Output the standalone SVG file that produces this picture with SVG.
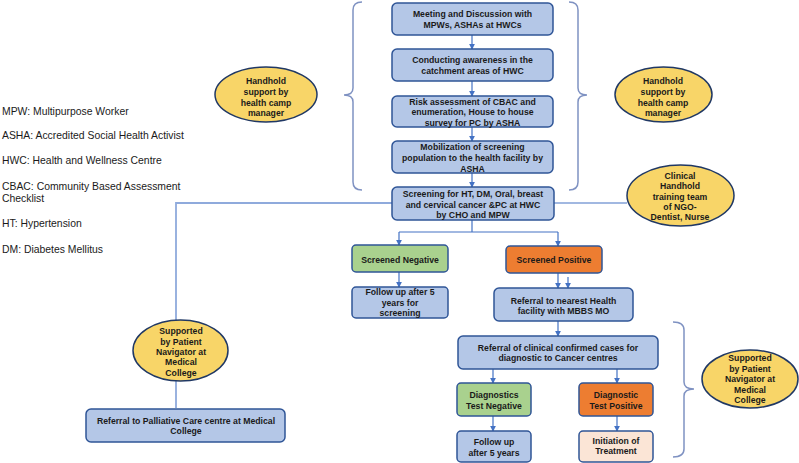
<svg xmlns="http://www.w3.org/2000/svg" width="799" height="463" viewBox="0 0 799 463">
<defs>
<marker id="ah" viewBox="0 0 8 8" refX="7" refY="4" markerWidth="6" markerHeight="6" orient="auto" markerUnits="userSpaceOnUse">
<path d="M0,0 L8,4 L0,8 z" fill="#4472c4"/>
</marker>
<style>
.box{fill:#b4c7e7;stroke:#2f5597;stroke-width:1.5}
.neg{fill:#a9d18e;stroke:#2f5597;stroke-width:1.5}
.pos{fill:#ed7d31;stroke:#2f5597;stroke-width:1.5}
.trt{fill:#fbe5d6;stroke:#2f5597;stroke-width:1.5}
.ell{fill:#f8d568;stroke:#203864;stroke-width:1.5}
.t{font-family:"Liberation Sans",Arial,sans-serif;font-weight:bold;font-size:8.7px;fill:#1a1a1a;text-anchor:middle}
.lg{font-family:"Liberation Sans",Arial,sans-serif;font-size:10.4px;fill:#1a1a1a}
.arr{stroke:#4472c4;stroke-width:1.2;fill:none;marker-end:url(#ah)}
.ln{stroke:#4472c4;stroke-width:1.2;fill:none}
.ln2{stroke:#8faadc;stroke-width:1.8;fill:none}
.br{stroke:#7f92c2;stroke-width:1.5;fill:none}
</style>
</defs>

<g id="legend">
<text class="lg" x="2" y="115">MPW: Multipurpose Worker</text>
<text class="lg" x="2" y="139">ASHA: Accredited Social Health Activist</text>
<text class="lg" x="2" y="164">HWC: Health and Wellness Centre</text>
<text class="lg" x="2" y="190">CBAC: Community Based Assessment</text>
<text class="lg" x="2" y="202">Checklist</text>
<text class="lg" x="2" y="227">HT: Hypertension</text>
<text class="lg" x="2" y="253">DM: Diabetes Mellitus</text>
</g>

<g id="braces">
<path class="br" d="M362,2 Q353,2 353,10 L353,88 Q353,95 344,95 Q353,95 353,102 L353,182 Q353,190 362,190"/>
<path class="br" d="M569,2 Q578,2 578,10 L578,88 Q578,95 587,95 Q578,95 578,102 L578,182 Q578,190 569,190"/>
<path class="br" d="M673,322 Q684,322 684,330 L684,382 Q684,389 694,389 Q684,389 684,396 L684,449 Q684,457 673,457"/>
</g>

<g id="connectors">
<line class="arr" x1="472" y1="35" x2="472" y2="49"/>
<line class="arr" x1="472" y1="81" x2="472" y2="96"/>
<line class="arr" x1="472" y1="127" x2="472" y2="141"/>
<line class="arr" x1="472" y1="173" x2="472" y2="187"/>
<line class="ln" x1="554" y1="203" x2="627" y2="203"/>
<polyline class="ln2" points="392,203 176,203 176,320"/>
<line class="ln2" x1="176" y1="381" x2="176" y2="408"/>
<polyline class="ln" points="472,220 472,232"/>
<polyline class="ln" points="399,232 558,232"/>
<line class="arr" x1="399" y1="232" x2="399" y2="245"/>
<line class="arr" x1="558" y1="232" x2="558" y2="246"/>
<line class="arr" x1="399" y1="272" x2="399" y2="287"/>
<line class="arr" x1="558" y1="273" x2="558" y2="288"/>
<line class="arr" x1="568" y1="277" x2="568" y2="288"/>
<line class="arr" x1="558" y1="321" x2="558" y2="336"/>
<line class="arr" x1="493" y1="369" x2="493" y2="383"/>
<line class="arr" x1="617" y1="369" x2="617" y2="383"/>
<line class="arr" x1="493" y1="416" x2="493" y2="431"/>
<line class="arr" x1="617" y1="416" x2="617" y2="431"/>
</g>

<g id="n-meeting">
<rect class="box" x="392" y="3" width="161" height="32" rx="5"/>
<text class="t" x="472.5" y="16.5">Meeting and Discussion with</text>
<text class="t" x="472.5" y="27.5">MPWs, ASHAs at HWCs</text>
</g>
<g id="n-awareness">
<rect class="box" x="392" y="49" width="161" height="32" rx="5"/>
<text class="t" x="472.5" y="63">Conducting awareness in the</text>
<text class="t" x="472.5" y="74">catchment areas of HWC</text>
</g>
<g id="n-risk">
<rect class="box" x="392" y="96" width="161" height="31" rx="5"/>
<text class="t" x="472.5" y="104.5">Risk assessment of CBAC and</text>
<text class="t" x="472.5" y="115">enumeration, House to house</text>
<text class="t" x="472.5" y="125.5">survey for PC by ASHA</text>
</g>
<g id="n-mobilization">
<rect class="box" x="392" y="141" width="161" height="32" rx="5"/>
<text class="t" x="472.5" y="150">Mobilization of screening</text>
<text class="t" x="472.5" y="161">population to the health facility by</text>
<text class="t" x="472.5" y="171.5">ASHA</text>
</g>
<g id="n-screening">
<rect class="box" x="392" y="187" width="162" height="33" rx="5"/>
<text class="t" x="473" y="196.5">Screening for HT, DM, Oral, breast</text>
<text class="t" x="473" y="207.5">and cervical cancer &amp;PC at HWC</text>
<text class="t" x="473" y="218">by CHO and MPW</text>
</g>
<g id="n-screened-negative">
<rect class="neg" x="352" y="245" width="96" height="27" rx="4"/>
<text class="t" x="400" y="262.5">Screened Negative</text>
</g>
<g id="n-screened-positive">
<rect class="pos" x="506" y="246" width="96" height="27" rx="4"/>
<text class="t" x="554" y="262.5">Screened Positive</text>
</g>
<g id="n-followup-screening">
<rect class="box" x="352" y="287" width="96" height="31" rx="4"/>
<text class="t" x="400" y="295">Follow up after 5</text>
<text class="t" x="400" y="305.5">years for</text>
<text class="t" x="400" y="316">screening</text>
</g>
<g id="n-referral-nearest">
<rect class="box" x="494" y="288" width="139" height="33" rx="5"/>
<text class="t" x="563.5" y="303.5">Referral to nearest Health</text>
<text class="t" x="563.5" y="314">facility with  MBBS MO</text>
</g>
<g id="n-referral-clinical">
<rect class="box" x="458" y="336" width="200" height="33" rx="5"/>
<text class="t" x="558" y="350.7">Referral of clinical confirmed cases for</text>
<text class="t" x="558" y="361">diagnostic to Cancer centres</text>
</g>
<g id="n-diag-negative">
<rect class="neg" x="457" y="383" width="74" height="33" rx="4"/>
<text class="t" x="494" y="397.5">Diagnostics</text>
<text class="t" x="494" y="408.5">Test Negative</text>
</g>
<g id="n-diag-positive">
<rect class="pos" x="579" y="383" width="74" height="33" rx="4"/>
<text class="t" x="616" y="397.5">Diagnostic</text>
<text class="t" x="616" y="408.5">Test Positive</text>
</g>
<g id="n-followup">
<rect class="box" x="457" y="431" width="74" height="31" rx="4"/>
<text class="t" x="494" y="445">Follow up</text>
<text class="t" x="494" y="455.5">after 5 years</text>
</g>
<g id="n-treatment">
<rect class="trt" x="579" y="431" width="74" height="31" rx="4"/>
<text class="t" x="616" y="443.5">Initiation of</text>
<text class="t" x="616" y="454">Treatment</text>
</g>
<g id="n-palliative">
<rect class="box" x="86" y="409" width="199" height="33" rx="5"/>
<text class="t" x="186" y="423.5">Referral to Palliative Care centre at Medical</text>
<text class="t" x="186" y="434">College</text>
</g>

<g id="e-handhold-left">
<ellipse class="ell" cx="266" cy="94.5" rx="51" ry="27.5"/>
<text class="t" x="266" y="84">Handhold</text>
<text class="t" x="266" y="95">support by</text>
<text class="t" x="266" y="105.5">health camp</text>
<text class="t" x="266" y="116">manager</text>
</g>
<g id="e-handhold-right">
<ellipse class="ell" cx="663.5" cy="94.5" rx="48.5" ry="27.5"/>
<text class="t" x="663" y="84">Handhold</text>
<text class="t" x="663" y="95">support by</text>
<text class="t" x="663" y="105.5">health camp</text>
<text class="t" x="663" y="116">manager</text>
</g>
<g id="e-clinical">
<ellipse class="ell" cx="680.5" cy="195.5" rx="53.5" ry="30.5"/>
<text class="t" x="680" y="178.5">Clinical</text>
<text class="t" x="680" y="189">Handhold</text>
<text class="t" x="680" y="199.5">training  team</text>
<text class="t" x="680" y="209.5">of NGO-</text>
<text class="t" x="680" y="220">Dentist, Nurse</text>
</g>
<g id="e-navigator-left">
<ellipse class="ell" cx="180.5" cy="350.5" rx="47.5" ry="30.5"/>
<text class="t" x="181" y="334">Supported</text>
<text class="t" x="181" y="344.5">by Patient</text>
<text class="t" x="181" y="355">Navigator at</text>
<text class="t" x="181" y="365">Medical</text>
<text class="t" x="181" y="375.5">College</text>
</g>
<g id="e-navigator-right">
<ellipse class="ell" cx="750" cy="379" rx="48" ry="29"/>
<text class="t" x="750" y="360.8">Supported</text>
<text class="t" x="750" y="371.5">by Patient</text>
<text class="t" x="750" y="382">Navigator at</text>
<text class="t" x="750" y="392.5">Medical</text>
<text class="t" x="750" y="403">College</text>
</g>
</svg>
